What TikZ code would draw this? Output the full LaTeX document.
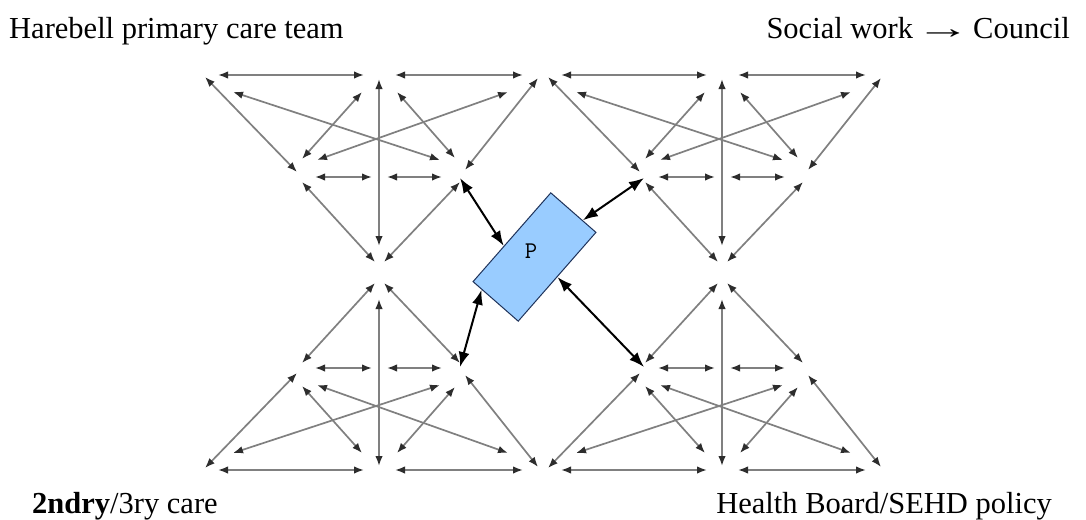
\documentclass[tikz,border=0pt]{standalone}
\usepackage{graphicx}
\usepackage{fontspec}
\setmainfont{Liberation Serif}
\usetikzlibrary{arrows.meta,calc}
\definecolor{linegray}{RGB}{128,128,128}
\definecolor{tipgray}{RGB}{45,45,45}
\definecolor{pfill}{RGB}{153,204,255}
\definecolor{pedge}{RGB}{30,50,90}
\tikzset{
  garrow/.style={draw=linegray, line width=1.7pt,
    arrows={Latex[length=10pt,width=7.5pt,color=tipgray]-Latex[length=10pt,width=7.5pt,color=tipgray]}},
  parrow/.style={draw=black, line width=2pt,
    arrows={Latex[length=15pt,width=11pt]-Latex[length=15pt,width=11pt]}},
  lbl/.style={inner sep=0pt, font=\fontsize{30.5}{36}\selectfont},
  pbox/.style={draw=pedge, line width=1pt, fill=pfill, minimum width=118pt,
    minimum height=60pt, inner sep=0pt, rotate=48.8},
  cluster/.pic={
    \coordinate (-h1a) at (-161,0);  \coordinate (-h1b) at (-15,0);
    \coordinate (-h2a) at (16,0);    \coordinate (-h2b) at (144,0);
    \coordinate (-va)  at (0,4);     \coordinate (-vb)  at (0,171);
    \coordinate (-l1a) at (-174,2);  \coordinate (-l1b) at (-82,97);
    \coordinate (-l2a) at (-77,107); \coordinate (-l2b) at (-4,187);
    \coordinate (-r1a) at (159,3);   \coordinate (-r1b) at (86,95);
    \coordinate (-r2a) at (81,107);  \coordinate (-r2b) at (5,187);
    \coordinate (-m1a) at (-64,102); \coordinate (-m1b) at (-7,102);
    \coordinate (-m2a) at (8,102);   \coordinate (-m2b) at (63,102);
    \coordinate (-d1a) at (-146,17); \coordinate (-d1b) at (61,85);
    \coordinate (-d2a) at (129,17);  \coordinate (-d2b) at (-62,85);
    \coordinate (-s1a) at (-17,17);  \coordinate (-s1b) at (-77,84);
    \coordinate (-s2a) at (18,17);   \coordinate (-s2b) at (76,83);
    \coordinate (-pL)  at (-78,103); \coordinate (-pR)  at (81,103);
    \draw[garrow] (-h1a) -- (-h1b);
    \draw[garrow] (-h2a) -- (-h2b);
    \draw[garrow] (-va) -- (-vb);
    \draw[garrow] (-l1a) -- (-l1b);
    \draw[garrow] (-l2a) -- (-l2b);
    \draw[garrow] (-r1a) -- (-r1b);
    \draw[garrow] (-r2a) -- (-r2b);
    \draw[garrow] (-m1a) -- (-m1b);
    \draw[garrow] (-m2a) -- (-m2b);
    \draw[garrow] (-d1a) -- (-d1b);
    \draw[garrow] (-d2a) -- (-d2b);
    \draw[garrow] (-s1a) -- (-s1b);
    \draw[garrow] (-s2a) -- (-s2b);
  }
}
\begin{document}
\begin{tikzpicture}[x=1pt,y=-1pt]
\useasboundingbox[fill=white] (0,0) rectangle (1086,519);

\node[lbl, anchor=base west] (t1) at (9,38) {Harebell primary care team};
\node[lbl, anchor=base east] (t2) at (1070,38) {Social work\kern-5pt\ \scalebox{1.8}[1]{→}\kern-5pt\ Council};
\node[lbl, anchor=base west] (t3) at (32,513) {\textbf{2ndry}/3ry care};
\node[lbl, anchor=base east] (t4) at (1052,513) {Health Board/SEHD policy};

\pic (TL) at (379,75) {cluster};
\pic (TR) at (722,75) {cluster};
\pic[yscale=-1] (BL) at (379,470) {cluster};
\pic[yscale=-1] (BR) at (722,470) {cluster};

\node[pbox] (P) at (534.5,257) {};
\node[inner sep=0pt, font=\ttfamily\fontsize{24}{28}\selectfont] (Plabel) at (531,251) {P};

\draw[parrow] (TL-pR) -- ($(P.north west)!0.4!(P.north east)$);
\draw[parrow] (TR-pL) -- ($(P.north east)!0.7!(P.south east)$);
\draw[parrow] ($(P.north west)!0.2!(P.south west)$) -- (BL-pR);
\draw[parrow] ($(P.south west)!0.5!(P.south east)$) -- (BR-pL);
\end{tikzpicture}
\end{document}
